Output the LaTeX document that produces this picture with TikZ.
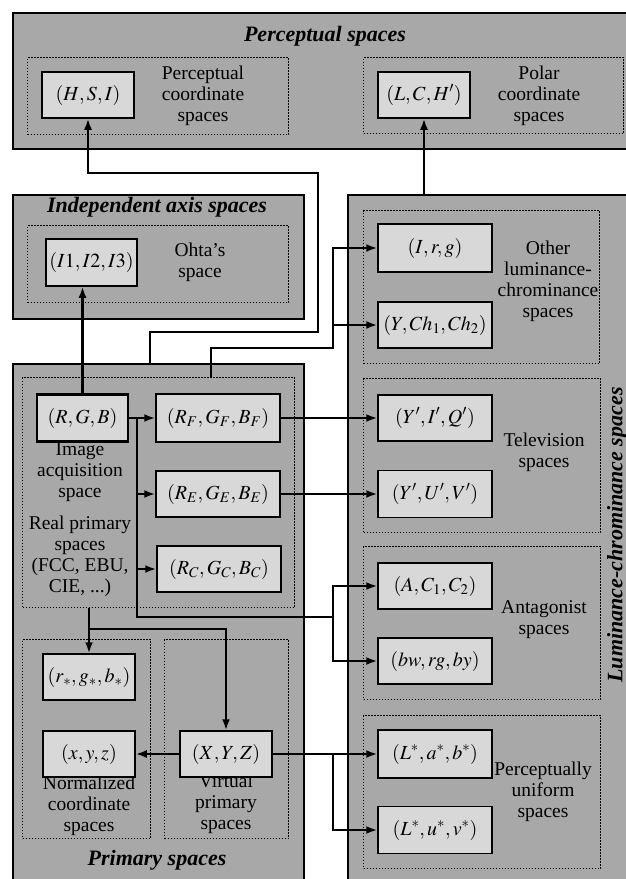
\documentclass[tikz,border=0pt]{standalone}
\usepackage{mathptmx}
\usepackage{fontspec}
\setmainfont{Liberation Serif}
\usetikzlibrary{arrows.meta}
\definecolor{boxgray}{RGB}{168,168,168}
\definecolor{nodegray}{RGB}{216,216,216}
\begin{document}
\begin{tikzpicture}[x=1pt,y=-1pt,
  outerbox/.style={draw=black, line width=1.8pt, fill=boxgray, anchor=north west, inner sep=0pt},
  dotbox/.style={draw=black, line width=1.3pt, dash pattern=on 1.4pt off 1.6pt, anchor=north west, inner sep=0pt},
  sp/.style={draw=black, line width=1.5pt, fill=nodegray, minimum width=114pt, minimum height=46pt, inner sep=0pt, font=\fontsize{20}{22}\selectfont},
  lbl/.style={align=center, inner sep=0pt, font=\fontsize{19.5}{21}\selectfont},
  ttl/.style={inner sep=0pt, font=\fontsize{22}{24}\selectfont\bfseries\itshape},
  wire/.style={line width=2.3pt},
  arr/.style={line width=2.3pt, -{Latex[length=11pt,width=8pt]}}]
\useasboundingbox (0,0) rectangle (626,879);
\clip (0,0) rectangle (626,879);
\fill[white] (0,0) rectangle (626,879);
% outer boxes
\node[outerbox, minimum width=628pt, minimum height=136pt] (perc) at (12,12) {};
\node[outerbox, minimum width=291pt, minimum height=124pt] (indep) at (12,194) {};
\node[outerbox, minimum width=291pt, minimum height=540pt] (prim) at (12,363) {};
\node[outerbox, minimum width=293pt, minimum height=710pt] (lum) at (347,194) {};
% dotted boxes
\node[dotbox, minimum width=261pt, minimum height=77pt] (dpc) at (27,57) {};
\node[dotbox, minimum width=260pt, minimum height=76pt] (dpolar) at (363,57) {};
\node[dotbox, minimum width=261pt, minimum height=77pt] (dohta) at (27,225) {};
\node[dotbox, minimum width=236pt, minimum height=153pt] (dother) at (363,210) {};
\node[dotbox, minimum width=237pt, minimum height=154pt] (dtv) at (363,378) {};
\node[dotbox, minimum width=237pt, minimum height=153pt] (dant) at (363,546) {};
\node[dotbox, minimum width=237pt, minimum height=153pt] (dpu) at (363,715) {};
\node[dotbox, minimum width=272pt, minimum height=230pt] (dreal) at (22,377) {};
\node[dotbox, minimum width=128pt, minimum height=199pt] (dnorm) at (22,639) {};
\node[dotbox, minimum width=124pt, minimum height=199pt] (dvirt) at (164,639) {};
% titles and labels
\node[ttl] (tperc) at (325,36) {Perceptual spaces};
\node[lbl] (lpc) at (203,96) {Perceptual\\coordinate\\spaces};
\node[lbl] (lpolar) at (539,96) {Polar\\coordinate\\spaces};
\node[ttl] (tind) at (157,207) {Independent axis spaces};
\node[lbl] (lohta) at (200,262) {Ohta’s\\space};
\node[lbl] (lother) at (548,281) {Other\\luminance-\\chrominance\\spaces};
\node[lbl] (ltv) at (544,452) {Television\\spaces};
\node[lbl] (lant) at (544,620) {Antagonist\\spaces};
\node[lbl] (lpu) at (543,792) {Perceptually\\uniform\\spaces};
\node[ttl, rotate=90] (tlum) at (617,535) {Luminance-chrominance spaces};
\node[lbl] (limg) at (80,472) {Image\\acquisition\\space};
\node[lbl] (lreal) at (80,556) {Real primary\\spaces\\(FCC, EBU,\\CIE, ...)};
\node[lbl] (lnorm) at (89,806) {Normalized\\coordinate\\spaces};
\node[lbl] (lvirt) at (226,804) {Virtual\\primary\\spaces};
\node[ttl] (tprim) at (157,860) {Primary spaces};
% connector coordinates
\coordinate (c1) at (150,363);
\coordinate (c2) at (211,377);
\coordinate (busT) at (137,418);
\coordinate (busB) at (137,617);
\coordinate (antJ) at (333,617);
\coordinate (dJ) at (89,629);
\coordinate (puJ) at (333,754);
\coordinate (oJ) at (333,325);
% colour space nodes
\node[sp, minimum width=92pt] (hsi) at (88,95) {$(H,S,I)$};
\node[sp, minimum width=92pt] (lch) at (424,95) {$(L,C,H')$};
\node[sp, minimum width=91pt, minimum height=47pt] (ohta) at (91.5,262.5) {$(I1,I2,I3)$};
\node[sp, minimum height=48pt] (irg) at (435,248) {$(I,r,g)$};
\node[sp] (ych) at (435,325) {$(Y,Ch_1,Ch_2)$};
\node[sp] (yiq) at (435,418) {$(Y',I',Q')$};
\node[sp, minimum height=47pt] (yuv) at (435,494) {$(Y',U',V')$};
\node[sp] (ac) at (435,586) {$(A,C_1,C_2)$};
\node[sp] (bw) at (435,661) {$(bw,rg,by)$};
\node[sp, minimum height=48pt] (lab) at (435,754) {$(L^*,a^*,b^*)$};
\node[sp, minimum height=47pt] (luv) at (435,830) {$(L^*,u^*,v^*)$};
\node[sp, minimum width=91pt, minimum height=47pt, line width=2.6pt] (rgb) at (82.5,418) {$(R,G,B)$};
\node[sp, minimum width=124pt, minimum height=48pt] (rf) at (218,418) {$(R_F,G_F,B_F)$};
\node[sp, minimum width=124pt] (re) at (218,494) {$(R_E,G_E,B_E)$};
\node[sp, minimum width=124pt] (rc) at (219,569) {$(R_C,G_C,B_C)$};
\node[sp, minimum width=92pt] (rgbs) at (89,677) {$(r_*,g_*,b_*)$};
\node[sp, minimum width=92pt] (xyzn) at (89,754) {$(x,y,z)$};
\node[sp, minimum width=92pt] (xyz) at (226,754) {$(X,Y,Z)$};
% connectors
\draw[arr] (c1) -- (150,332) -- (318,332) -- (318,173) -- (hsi.south |- 0,173) -- (hsi.south);
\draw[arr] (lch.south |- lum.north) -- (lch.south);
\draw[arr] (rgb.north) -- (rgb.north |- ohta.south);
\draw[arr] (c2) -- (211,348) -- (333,348) -- (333,248) -- (irg.west);
\draw[arr] (oJ) -- (ych.west);
\draw[arr] (rgb.east) -- (rf.west);
\draw[wire] (busT) -- (busB) -- (antJ);
\draw[arr] (busT |- re.west) -- (re.west);
\draw[arr] (busT |- rc.west) -- (rc.west);
\draw[arr] (antJ) -- (antJ |- ac.west) -- (ac.west);
\draw[arr] (antJ) -- (antJ |- bw.west) -- (bw.west);
\draw[arr] (rf.east) -- (yiq.west);
\draw[arr] (re.east) -- (yuv.west);
\draw[arr] (dJ |- dreal.south) -- (rgbs.north);
\draw[arr] (dJ) -- (xyz.north |- dJ) -- (xyz.north);
\draw[arr] (xyz.west) -- (xyzn.east);
\draw[arr] (xyz.east) -- (lab.west);
\draw[arr] (puJ) -- (puJ |- luv.west) -- (luv.west);
\end{tikzpicture}
\end{document}
